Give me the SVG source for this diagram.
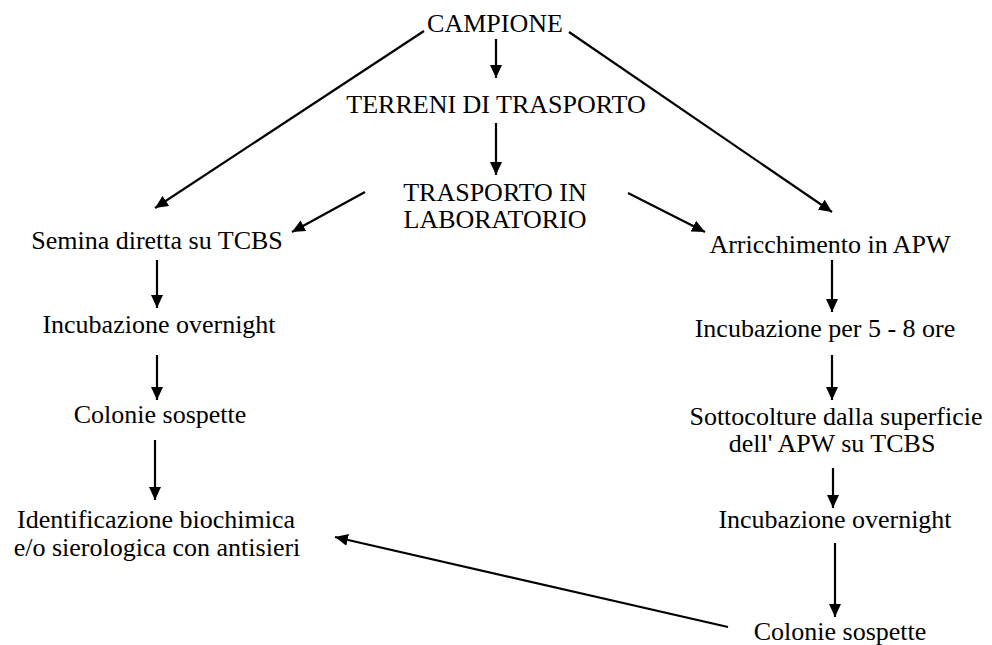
<svg xmlns="http://www.w3.org/2000/svg" width="992" height="645" viewBox="0 0 992 645">
<defs>
<marker id="ah" markerUnits="userSpaceOnUse" markerWidth="14" markerHeight="12" refX="13" refY="6" orient="auto">
<path d="M0,0 L13,6 L0,12 z" fill="#000"/>
</marker>
<style>
text{font-family:"Liberation Serif","Times New Roman",serif;font-size:26px;fill:#000;text-anchor:middle}
.cap{font-size:26px}
.edge{stroke:#000;stroke-width:2.2;fill:none;marker-end:url(#ah)}
</style>
</defs>
<rect width="992" height="645" fill="#fff"/>
<g id="connectors">
<line class="edge" x1="496" y1="39" x2="496" y2="78"/>
<line class="edge" x1="496" y1="123" x2="496" y2="175"/>
<line class="edge" x1="424" y1="31" x2="155" y2="208"/>
<line class="edge" x1="569" y1="32" x2="832" y2="212"/>
<line class="edge" x1="365" y1="192" x2="292" y2="232"/>
<line class="edge" x1="628" y1="193" x2="705" y2="232"/>
<line class="edge" x1="157" y1="260" x2="157" y2="308"/>
<line class="edge" x1="157" y1="355" x2="157" y2="400"/>
<line class="edge" x1="155" y1="440" x2="155" y2="500"/>
<line class="edge" x1="832" y1="260" x2="832" y2="312"/>
<line class="edge" x1="832" y1="355" x2="832" y2="400"/>
<line class="edge" x1="833" y1="468" x2="833" y2="508"/>
<line class="edge" x1="835" y1="543" x2="835" y2="617"/>
<line class="edge" x1="728" y1="627" x2="335" y2="537"/>
</g>
<g id="n-campione"><text class="cap" x="495" y="32">CAMPIONE</text></g>
<g id="n-terreni"><text class="cap" x="496" y="113">TERRENI DI TRASPORTO</text></g>
<g id="n-trasporto"><text class="cap" x="495" y="201">TRASPORTO IN</text><text class="cap" x="495" y="228">LABORATORIO</text></g>
<g id="n-semina"><text x="157" y="249">Semina diretta su TCBS</text></g>
<g id="n-incub-l"><text x="159" y="333">Incubazione overnight</text></g>
<g id="n-colonie-l"><text x="160" y="423">Colonie sospette</text></g>
<g id="n-ident"><text x="156" y="528">Identificazione biochimica</text><text x="157" y="556">e/o sierologica con antisieri</text></g>
<g id="n-arricch"><text x="830" y="253">Arricchimento in APW</text></g>
<g id="n-incub-per"><text x="825" y="337">Incubazione per 5 - 8 ore</text></g>
<g id="n-sottoc"><text x="836" y="425">Sottocolture dalla superficie</text><text x="832" y="452">dell' APW su TCBS</text></g>
<g id="n-incub-r"><text x="835" y="528">Incubazione overnight</text></g>
<g id="n-colonie-r"><text x="840" y="640">Colonie sospette</text></g>
</svg>
